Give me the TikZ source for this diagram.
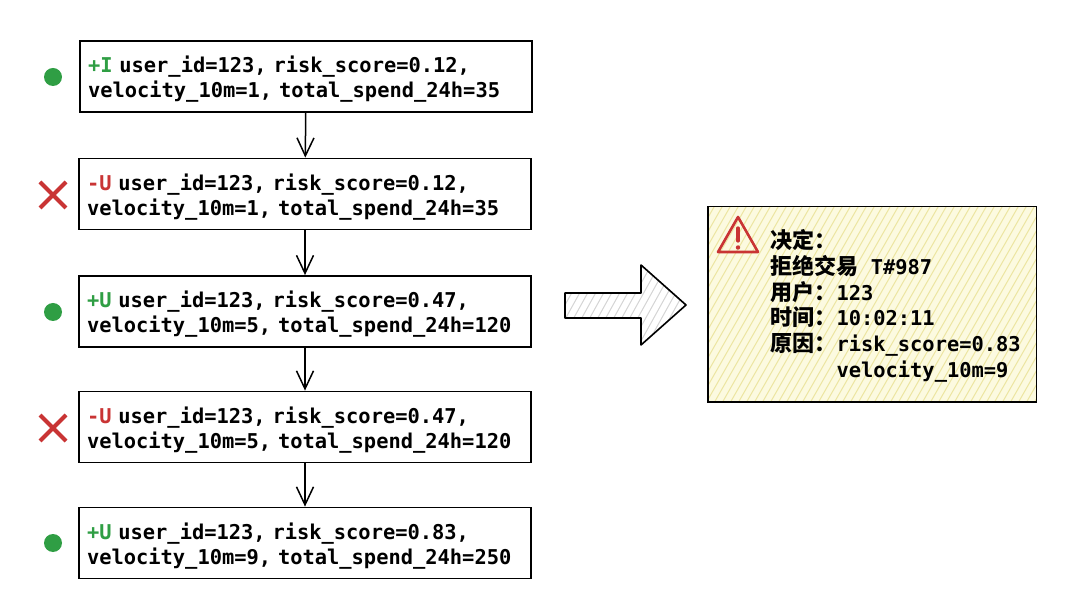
\documentclass[tikz,border=0pt]{standalone}
\usepackage{fontspec}
\setmonofont{DejaVu Sans Mono}
\newfontfamily\cjk[Scale=1.08]{Noto Sans CJK SC}
\usetikzlibrary{arrows.meta,shapes.misc}
\definecolor{okgreen}{RGB}{47,158,68}
\definecolor{badred}{RGB}{201,52,52}
\definecolor{notefill}{RGB}{252,250,224}
\definecolor{notehatch}{RGB}{236,229,160}
\definecolor{arrowhatch}{RGB}{212,212,212}

\begin{document}
\begin{tikzpicture}[x=0.5pt,y=-0.5pt,
    rec/.style={draw,shape=rectangle,line width=0.9pt,minimum width=226pt,minimum height=35.5pt,
      inner xsep=4pt,text width=218pt,align=left,font=\ttfamily\bfseries\fontsize{10.2}{12.5}\selectfont,
      execute at begin node={\rule{0pt}{11pt}}},
    ok/.style={shape=circle,fill=okgreen,inner sep=0pt,minimum size=9pt},
    bad/.style={shape=cross out,draw=badred,line width=2pt,inner sep=0pt,minimum size=11pt},
    >={Straight Barb[length=9pt,width=8.5pt]}]
    \useasboundingbox (0,0) rectangle (1080,603);
    % update stream
    \draw (306,76.5) node[rec] (r1) {\textcolor{okgreen}{+I} user\_id=123, risk\_score=0.12,\\velocity\_10m=1, total\_spend\_24h=35};
    \draw (305,194) node[rec] (r2) {\textcolor{badred}{-U} user\_id=123, risk\_score=0.12,\\velocity\_10m=1, total\_spend\_24h=35};
    \draw (305,311.5) node[rec] (r3) {\textcolor{okgreen}{+U} user\_id=123, risk\_score=0.47,\\velocity\_10m=5, total\_spend\_24h=120};
    \draw (305,427) node[rec] (r4) {\textcolor{badred}{-U} user\_id=123, risk\_score=0.47,\\velocity\_10m=5, total\_spend\_24h=120};
    \draw (305,543) node[rec] (r5) {\textcolor{okgreen}{+U} user\_id=123, risk\_score=0.83,\\velocity\_10m=9, total\_spend\_24h=250};
    \draw (53,77) node[ok] (m1) {};
    \draw (53,195) node[bad] (m2) {};
    \draw (53,312) node[ok] (m3) {};
    \draw (53,428) node[bad] (m4) {};
    \draw (53,543) node[ok] (m5) {};
    \draw [->,line width=0.75pt] (r1) -- (r2);
    \draw [->,line width=0.75pt] (r2) -- (r3);
    \draw [->,line width=0.75pt] (r3) -- (r4);
    \draw [->,line width=0.75pt] (r4) -- (r5);
    % big arrow
    \begin{scope}
      \clip (565,293) -- (641,293) -- (641,265) -- (686,305) -- (641,345) -- (641,318) -- (565,318) -- cycle;
      \foreach \i in {0,...,24}
        \draw[arrowhatch,line width=0.5pt] (500+\i*8,350) -- ++(50,-90);
    \end{scope}
    \draw[line width=0.8pt,line join=round] (565,293) -- (641,293) -- (641,265) -- (686,305) -- (641,345) -- (641,318) -- (565,318) -- cycle;
    % decision
    \draw (872,304.5) node[shape=rectangle,fill=notefill,minimum width=164pt,minimum height=97.5pt] (dec) {};
    \begin{scope}
      \clip (dec.south west) rectangle (dec.north east);
      \foreach \i in {0,...,58}
        \draw[notehatch,line width=0.5pt] (590+\i*8,410) -- ++(120,-210);
    \end{scope}
    \draw[line width=0.9pt] (dec.south west) rectangle (dec.north east);
    \draw[badred,line width=1.3pt,line join=round] (718,252) -- (758,252) -- (738,217) -- cycle;
    \draw[badred,line width=1.6pt,line cap=round] (738,228) -- (738,241);
    \fill[badred] (738,247.5) circle (1.1pt);
    \draw (770,229) node[anchor=north west,inner sep=0pt,align=left,font=\ttfamily\bfseries\fontsize{10.2}{12.9}\selectfont] (txt)
      {{\cjk 决定：}\\{\cjk 拒绝交易} T\#987\\{\cjk 用户：}123\\{\cjk 时间：}10:02:11\\{\cjk 原因：}risk\_score=0.83\\\phantom{\cjk 原因：}velocity\_10m=9};
\end{tikzpicture}
\end{document}
